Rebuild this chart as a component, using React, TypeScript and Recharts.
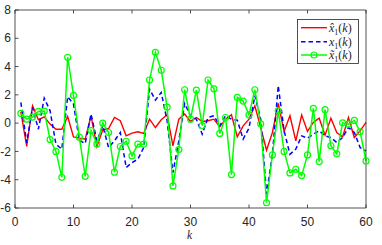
import React from 'react';
import { LineChart, Line, XAxis, YAxis, Legend } from 'recharts';

const kValues = [
  1, 2, 3, 4, 5, 6, 7, 8, 9, 10, 11, 12, 13, 14, 15, 16, 17, 18, 19, 20,
  21, 22, 23, 24, 25, 26, 27, 28, 29, 30, 31, 32, 33, 34, 35, 36, 37, 38, 39, 40,
  41, 42, 43, 44, 45, 46, 47, 48, 49, 50, 51, 52, 53, 54, 55, 56, 57, 58, 59, 60,
];

const xHat = [
  0.8, -1.65, 1.23, 0.24, 0.45, -0.07, -0.43, -0.43, 0.47, -0.97,
  -1.06, -1.13, 0.52, -1.65, -0.47, -0.38, 0.4, 0.17, -0.9, -0.71,
  -0.61, -0.73, 0.28, -0.31, 0.24, 0.59, -1.6, 0.28, 0.64, 0.12,
  0.4, 0.12, 0.17, 0.28, -0.26, 0.28, 0.59, -0.97, -0.19, 0.28,
  1.23, -0.31, -1.91, -0.66, 1.39, -0.59, 0.52, -1.25, 0.57, -0.59,
  0.05, 0.35, -0.85, 0.35, -0.66, -0.97, 0.4, -1.02, -0.54, 0.05,
];

const xTrue = [
  1.47, -1.37, 1.11, -0.43, 1.77, 0.87, -1.49, -1.84, 1.87, 1.35,
  -1.21, -1.44, 0.64, -1.25, -0.19, -1.73, -1.25, -0.66, -3.14, -2.79,
  -2.55, -1.73, 2.41, 1.63, 2.17, 0.17, -3.5, -1.25, 1.39, 0.52,
  0.28, -0.78, 0.4, 0.52, -0.19, 0.52, 0.28, 0.21, -1.13, -0.35,
  1.94, 0.28, -5.0, -2.2, 2.65, -0.54, -2.2, -1.84, -0.9, -1.06,
  -0.78, -0.54, -0.9, -1.02, -1.37, -1.02, -0.31, -0.66, -1.73, -1.96,
];

const xTilde = [
  0.69, 0.28, 0.43, 0.83, 0.85, -1.16, -2.0, -3.83, 4.66, 1.96,
  -0.99, -3.76, -0.52, -1.47, 0.0, -0.66, -3.47, -1.65, -1.28, -2.32,
  -1.49, -1.49, 3.05, 5.01, 3.74, 1.13, -4.44, -1.87, 2.36, 0.28,
  2.34, -0.17, 3.05, 2.43, -0.73, 0.4, -3.64, 1.82, 1.56, 0.59,
  2.36, -0.05, -5.63, -2.25, 0.87, -2.0, -3.52, -3.26, -3.71, -2.25,
  1.04, -2.72, 0.95, -1.6, -2.17, 0.02, -0.07, 0.19, -0.61, -2.67,
];

const xTicks = [0, 10, 20, 30, 40, 50, 60];
const yTicks = [-6, -4, -2, 0, 2, 4, 6, 8];

const data = kValues.map((k, i) => ({ k, hat: xHat[i], tru: xTrue[i], tilde: xTilde[i] }));

const AX = '#262626';
const RED = '#ff0000';
const BLUE = '#0000ff';
const GREEN = '#00ff00';
const TL = 3.5;
const tickFont = { fontFamily: '"Liberation Sans", Arial, sans-serif', fontSize: 12, fill: AX };

const XTickBottom = (p: any) => (
  <g>
    <line x1={p.x} y1={p.y} x2={p.x} y2={p.y - TL} stroke={AX} strokeWidth={0.8} />
    <text x={p.x} y={p.y + 17.5} textAnchor="middle" {...tickFont}>{p.payload.value}</text>
  </g>
);
const XTickTop = (p: any) => (
  <line x1={p.x} y1={p.y} x2={p.x} y2={p.y + TL} stroke={AX} strokeWidth={0.8} />
);
const YTickLeft = (p: any) => (
  <g>
    <line x1={p.x} y1={p.y} x2={p.x + TL} y2={p.y} stroke={AX} strokeWidth={0.8} />
    <text x={p.x - 4} y={p.y + 4.2} textAnchor="end" {...tickFont}>{p.payload.value}</text>
  </g>
);
const YTickRight = (p: any) => (
  <line x1={p.x} y1={p.y} x2={p.x - TL} y2={p.y} stroke={AX} strokeWidth={0.8} />
);

const serif = '"Liberation Serif", "DejaVu Serif", serif';

const LegendLabel = ({ y, accent }: { y: number; accent: string }) => (
  <text x={32} y={y + 4} fontFamily={serif} fontSize={12} fill={AX}>
    <tspan fontStyle="italic">{accent}</tspan>
    <tspan fontSize={8} dy={3}>1</tspan>
    <tspan dy={-3}>(</tspan>
    <tspan fontStyle="italic">k</tspan>
    <tspan>)</tspan>
  </text>
);

const LegendBox = () => (
  <svg width={62} height={45} style={{ display: 'block' }}>
    <rect x={0.5} y={0.5} width={61} height={44} fill="#ffffff" stroke={AX} strokeWidth={0.8} />
    <line x1={4} y1={8.7} x2={30} y2={8.7} stroke={RED} strokeWidth={1.4} />
    <LegendLabel y={8.7} accent={'x\u0302'} />
    <line x1={4} y1={22.7} x2={30} y2={22.7} stroke={BLUE} strokeWidth={1.5} strokeDasharray="4.5 3" />
    <LegendLabel y={22.7} accent={'x'} />
    <line x1={4} y1={36} x2={30} y2={36} stroke={GREEN} strokeWidth={1.5} />
    <circle cx={17} cy={36} r={3} fill="none" stroke={GREEN} strokeWidth={1.2} />
    <LegendLabel y={36} accent={'x\u0303'} />
  </svg>
);

export default function App() {
  return (
    <div style={{ position: 'absolute', left: 0, top: 0 }}>
      <LineChart width={382} height={245} data={data} margin={{ top: 0, right: 0, bottom: 0, left: 0 }}>
        <XAxis
          xAxisId="b"
          type="number"
          dataKey="k"
          domain={[0, 60]}
          ticks={xTicks}
          orientation="bottom"
          height={37}
          tickSize={0}
          tickMargin={0}
          tick={<XTickBottom />}
          axisLine={{ stroke: AX, strokeWidth: 0.8 }}
          tickLine={false}
          label={{
            content: (lp: any) => (
              <text
                x={lp.viewBox.x + lp.viewBox.width / 2 - 1}
                y={lp.viewBox.y + 31}
                textAnchor="middle"
                fontFamily={serif}
                fontStyle="italic"
                fontSize={11.5}
                fill={AX}
              >
                k
              </text>
            ),
          }}
        />
        <XAxis
          xAxisId="t"
          type="number"
          dataKey="k"
          domain={[0, 60]}
          ticks={xTicks}
          orientation="top"
          height={10}
          tickSize={0}
          tickMargin={0}
          tick={<XTickTop />}
          axisLine={{ stroke: AX, strokeWidth: 0.8 }}
          tickLine={false}
        />
        <YAxis
          yAxisId="l"
          type="number"
          domain={[-6, 8]}
          ticks={yTicks}
          orientation="left"
          width={15}
          tickSize={0}
          tickMargin={0}
          tick={<YTickLeft />}
          axisLine={{ stroke: AX, strokeWidth: 0.8 }}
          tickLine={false}
        />
        <YAxis
          yAxisId="r"
          type="number"
          domain={[-6, 8]}
          ticks={yTicks}
          orientation="right"
          width={16}
          tickSize={0}
          tickMargin={0}
          tick={<YTickRight />}
          axisLine={{ stroke: AX, strokeWidth: 0.8 }}
          tickLine={false}
        />
        <Legend
          layout="vertical"
          verticalAlign="middle"
          align="center"
          content={<LegendBox />}
          wrapperStyle={{ position: 'absolute', left: 297, top: 19, width: 62, height: 45 }}
        />
        <Line
          xAxisId="b"
          yAxisId="l"
          dataKey="hat"
          stroke={RED}
          strokeWidth={1.4}
          dot={false}
          isAnimationActive={false}
        />
        <Line
          xAxisId="b"
          yAxisId="l"
          dataKey="tru"
          stroke={BLUE}
          strokeWidth={1.5}
          strokeDasharray="4.5 3"
          dot={false}
          isAnimationActive={false}
        />
        <Line
          xAxisId="b"
          yAxisId="l"
          dataKey="tilde"
          stroke={GREEN}
          strokeWidth={1.5}
          dot={{ r: 3, fill: 'none', stroke: GREEN, strokeWidth: 1.2 }}
          isAnimationActive={false}
        />
      </LineChart>
    </div>
  );
}
